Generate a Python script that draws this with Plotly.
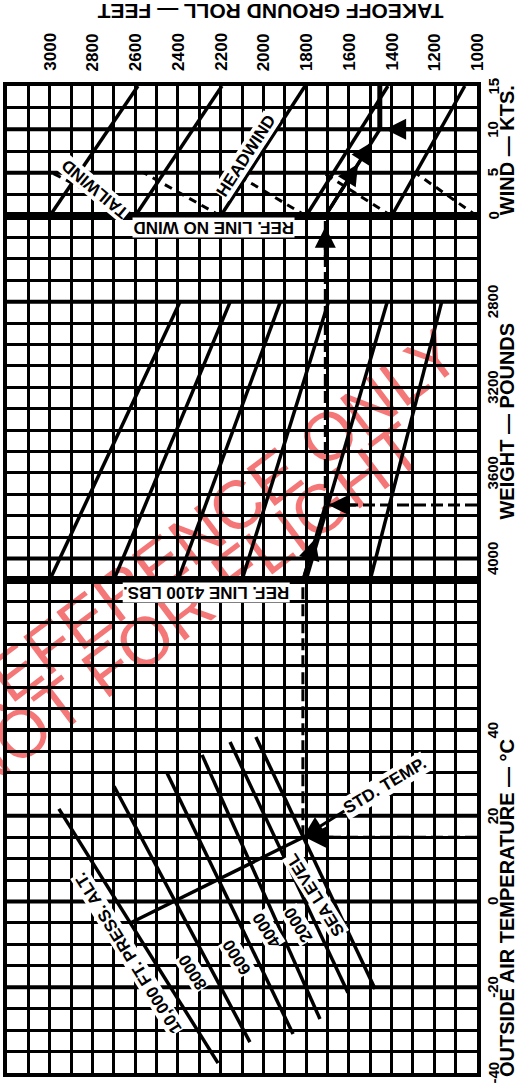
import plotly.graph_objects as go
from plotly.subplots import make_subplots

# ---------------- chart data ----------------
# Takeoff ground roll axis (feet), drawn across the page
roll_ticks = [3000, 2800, 2600, 2400, 2200, 2000, 1800, 1600, 1400, 1200, 1000]
oat_ticks = [-40, -20, 0, 20, 40]
weight_ticks = [4000, 3600, 3200, 2800]
wind_ticks = [0, 5, 10, 15]

# Pressure altitude lines: OAT (deg C) and ground roll (ft) at both ends
alt_labels = ["10,000 FT. PRESS. ALT.", "8000", "6000", "4000", "2000", "SEA LEVEL"]
alt_oat_lo = [-37.7, -32.8, -30.9, -27.4, -21.3, -20.4]
alt_roll_lo = [2212, 2063, 1861, 1735, 1604, 1477]
alt_oat_hi = [21.6, 26.9, 30.0, 34.2, 37.2, 38.4]
alt_roll_hi = [2957, 2699, 2451, 2287, 2156, 2035]
# label anchor positions (oat, roll)
alt_lbl_oat = [-12.0, -16.4, -12.9, -6.6, -5.5, 1.5]
alt_lbl_roll = [2630, 2329, 2123, 1983, 1838, 1758]

# Standard temperature line: 10,000 ft at -5 C to sea level at 15 C
std_oat = [-5, 15]

# Weight correction guide lines: ground roll at 4100 lb and at 2800 lb
wt_ref = 4100
wt_top = 2800
wt_roll_ref = [3000, 2700, 2400, 2100, 1800, 1500]
wt_roll_top = [2390, 2155, 1920, 1695, 1420, 1165]

# Headwind guide lines: ground roll at 0 kt and 15 kt
hw_roll_0 = [3000, 2600, 2200, 1800, 1400]
hw_roll_15 = [2587, 2194, 1805, 1417, 1057]
# Tailwind guide lines: ground roll at 0 kt and at their upper end
tw_roll_0 = [2600, 2200, 1800, 1400, 1000]
tw_wind_end = [5, 5, 5, 5, 5]
tw_roll_end = [2990, 2560, 2140, 1720, 1290]

# Worked example
ex_oat = 15
ex_weight = 3750
ex_wind = 10
ex_roll = [1815, 1710, 1455]   # after OAT/altitude, after weight, after wind

# ---------------- figure ----------------
fig = make_subplots(rows=3, cols=1, shared_xaxes=True, vertical_spacing=0,
                    row_heights=[130, 364, 493])

BLK = "black"
LW = 3.5


def line(x, y, row, width=LW, dash="solid"):
    fig.add_trace(go.Scatter(x=x, y=y, mode="lines", hoverinfo="skip",
                             line=dict(color=BLK, width=width, dash=dash),
                             showlegend=False), row=row, col=1)


# temperature / altitude panel
for lo_o, lo_r, hi_o, hi_r in zip(alt_oat_lo, alt_roll_lo, alt_oat_hi, alt_roll_hi):
    line([lo_r, hi_r], [lo_o, hi_o], 3)


def roll_on_alt(i, oat):
    f = (oat - alt_oat_lo[i]) / (alt_oat_hi[i] - alt_oat_lo[i])
    return alt_roll_lo[i] + f * (alt_roll_hi[i] - alt_roll_lo[i])


std_roll = [roll_on_alt(0, std_oat[0]), roll_on_alt(5, std_oat[1])]
line(std_roll, std_oat, 3)

# weight panel
for r0, r1 in zip(wt_roll_ref, wt_roll_top):
    line([r0, r1], [wt_ref, wt_top], 2)

# wind panel
for r0, r1 in zip(hw_roll_0, hw_roll_15):
    line([r0, r1], [0, 15], 1)
for r0, w1, r1 in zip(tw_roll_0, tw_wind_end, tw_roll_end):
    line([r0, r1], [0, w1], 1, width=3, dash="8px,6px")

# worked example path
DASH = "12px,5px"
line([1000, ex_roll[0]], [ex_oat, ex_oat], 3, width=3, dash=DASH)
line([ex_roll[0], ex_roll[0]], [ex_oat, 75], 3, width=3, dash=DASH)
line([ex_roll[0], ex_roll[1]], [wt_ref, ex_weight], 2, width=3)
line([1000, ex_roll[1]], [ex_weight, ex_weight], 2, width=3, dash=DASH)
line([ex_roll[1], ex_roll[1]], [ex_weight, 2400], 2, width=3, dash=DASH)
line([ex_roll[1], ex_roll[2]], [0, ex_wind], 1, width=3.5)
line([1000, ex_roll[2]], [ex_wind, ex_wind], 1, width=4)
line([ex_roll[2], ex_roll[2]], [ex_wind, 15], 1, width=5)

# ---------------- axes ----------------
grid = dict(showgrid=True, gridcolor=BLK, gridwidth=2.5, zeroline=False,
            showline=True, linecolor=BLK, linewidth=4, mirror=True,
            ticks="", showticklabels=False, fixedrange=True)
for r in (1, 2, 3):
    fig.update_xaxes(range=[3200, 1000], dtick=100, tick0=1000, row=r, col=1, **grid)
fig.update_yaxes(range=[0, 15], dtick=2.5, tick0=0, row=1, col=1, **grid)
fig.update_yaxes(range=[4100, 2400], dtick=100, tick0=2400, row=2, col=1, **grid)
fig.update_yaxes(range=[-40, 75], dtick=5, tick0=-40, row=3, col=1, **grid)

# heavier reference lines
shapes = []
for yv, yr in [(5, "y"), (10, "y"), (2800, "y2"), (4000, "y2"),
               (-20, "y3"), (0, "y3"), (20, "y3"), (40, "y3")]:
    xr = {"y": "x", "y2": "x2", "y3": "x3"}[yr]
    shapes.append(dict(type="line", xref=xr + " domain", x0=0, x1=1,
                       yref=yr, y0=yv, y1=yv, line=dict(color=BLK, width=4)))

# watermark
WM = "rgba(240,60,60,0.7)"
for txt, cx, cy in [("REFERENCE ONLY", 0.46, 0.522), ("NOT FOR FLIGHT", 0.425, 0.442)]:
    shapes.append(dict(type="line", xref="paper", yref="paper",
                       x0=cx - 0.01, x1=cx + 0.01, y0=cy, y1=cy, layer="below",
                       line=dict(color="rgba(0,0,0,0)", width=0),
                       label=dict(text=txt, textangle=-37, textposition="middle",
                                  font=dict(family="Liberation Sans, Arial", size=68, color=WM))))

fig.update_layout(shapes=shapes)

# ---------------- text ----------------
ann = []
FONT = "Liberation Sans, Arial, Helvetica, sans-serif"


def text(t, x, y, xref, yref, size, angle=0, bg=None, **kw):
    d = dict(text="<b>%s</b>" % t, x=x, y=y, xref=xref, yref=yref, showarrow=False,
             textangle=angle, font=dict(family=FONT, size=size, color=BLK),
             borderpad=0)
    if bg:
        d["bgcolor"] = bg
    d.update(kw)
    ann.append(d)


# ground roll scale along the top
for v in roll_ticks:
    text(str(v), v, 1, "x", "paper", 17, -90, yanchor="bottom", yshift=14)
text("TAKEOFF GROUND ROLL — FEET", 0.56, 1, "paper", "paper", 21, 180,
     yanchor="bottom", yshift=62)

# right-hand scales
for v in wind_ticks:
    text(str(v), 1, v, "paper", "y", 15, -90, xshift=25)
for v in weight_ticks:
    text(str(v), 1, v, "paper", "y2", 15, -90, xshift=25)
for v in oat_ticks:
    text(str(v), 1, v, "paper", "y3", 15, -90, xshift=25)
text("WIND — KTS.", 1, 7.6, "paper", "y", 20, -90, xshift=42)
text("WEIGHT — POUNDS", 1, 3360, "paper", "y2", 20, -90, xshift=42)
text("OUTSIDE AIR TEMPERATURE — °C", 1, -1.5, "paper", "y3", 20, -90, xshift=42)

# in-chart labels
text("REF. LINE NO WIND", 2231, 0, "x", "y", 17, 180, bg="white", yanchor="top", yshift=-1)
text("REF. LINE 4100 LBS.", 2268, wt_ref, "x2", "y2", 17, 180, bg="white",
     yanchor="top", yshift=-2)
text("HEADWIND", 2080, 7.0, "x", "y", 17, -57, bg="white")
text("TAILWIND", 2790, 3.1, "x", "y", 17, -140, bg="white")
for t, o, r in zip(alt_labels, alt_lbl_oat, alt_lbl_roll):
    text(t, r, o, "x3", "y3", 17, -122, bg="white")

# STD. TEMP. callout pointing at sea level / standard temperature
ann.append(dict(text="<b>STD. TEMP.</b>", x=ex_roll[0], y=ex_oat, xref="x3", yref="y3",
                ax=82, ay=-52, showarrow=True, arrowhead=2, arrowsize=1.4,
                arrowwidth=3, arrowcolor=BLK, textangle=-31, bgcolor="white",
                font=dict(family=FONT, size=17, color=BLK)))


def arrow(x, y, ax, ay, xr, yr):
    ann.append(dict(text="", x=x, y=y, ax=ax, ay=ay, xref=xr, yref=yr,
                    axref=xr, ayref=yr, showarrow=True, arrowhead=2,
                    arrowsize=1.4, arrowwidth=3, arrowcolor=BLK))


arrow(ex_roll[0] - 10, ex_oat, ex_roll[0] - 150, ex_oat, "x3", "y3")
f = 0.55
arrow(ex_roll[0] + f * (ex_roll[1] - ex_roll[0]), wt_ref + f * (ex_weight - wt_ref),
      ex_roll[0], wt_ref, "x2", "y2")
arrow(ex_roll[1] - 15, ex_weight, ex_roll[1] - 150, ex_weight, "x2", "y2")
arrow(ex_roll[1], 2450, ex_roll[1], 2600, "x2", "y2")
for f in (0.6, 0.85):
    arrow(ex_roll[1] + f * (ex_roll[2] - ex_roll[1]), f * ex_wind,
          ex_roll[1], 0, "x", "y")
arrow(ex_roll[2] - 25, ex_wind, ex_roll[2] - 170, ex_wind, "x", "y")

fig.update_layout(annotations=ann, width=530, height=1091,
                  margin=dict(l=7, r=53, t=86, b=18),
                  paper_bgcolor="white", plot_bgcolor="white",
                  font=dict(family=FONT, color=BLK))

fig.write_html("out.html", config={"displayModeBar": False})
